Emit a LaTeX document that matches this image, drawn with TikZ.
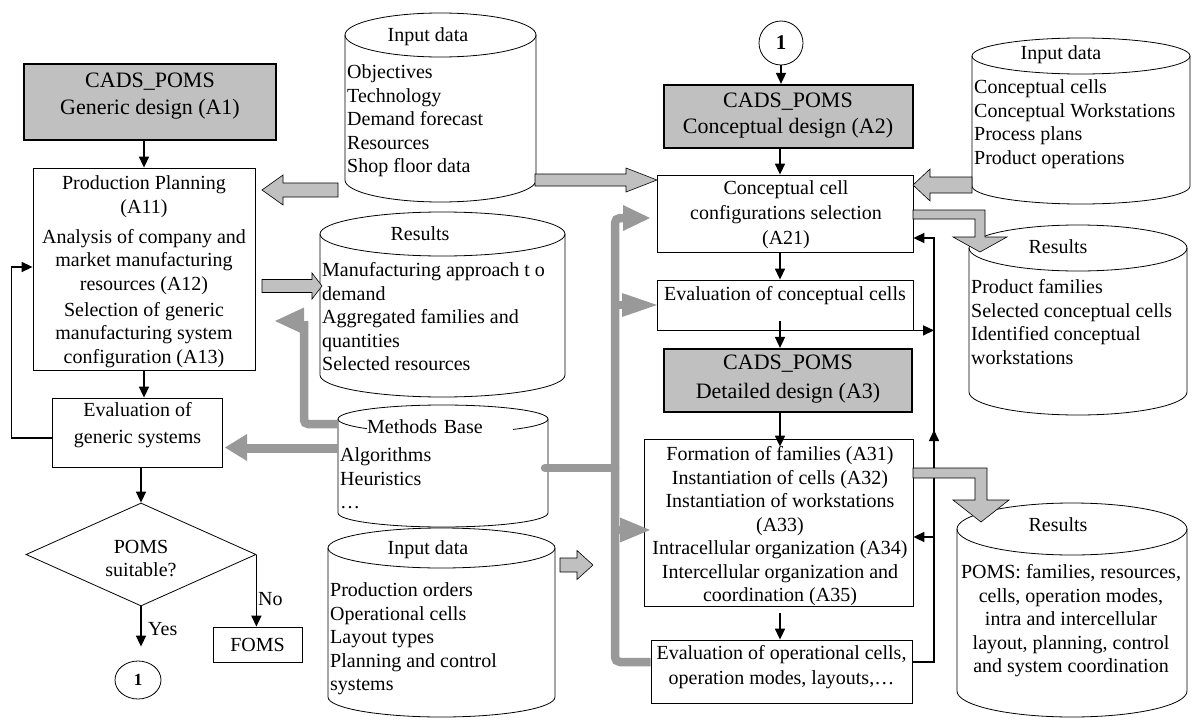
\documentclass[tikz,border=0pt]{standalone}
\usepackage{fontspec}
\setmainfont{Liberation Serif}
\usetikzlibrary{arrows.meta,shapes.geometric,calc}
\definecolor{boxgray}{RGB}{192,192,192}
\definecolor{linegray}{RGB}{153,153,153}
\newcommand{\bodyfont}{\fontsize{20}{23.5}\selectfont}
\newcommand{\headfont}{\fontsize{22}{26}\selectfont}
% cylinder: name, left, right, top, bottom, ry  (pixel values, y downwards)
\newcommand{\drawcyl}[6]{%
  \pgfmathsetmacro{\cylrx}{(#3-#2)/2}%
  \pgfmathsetmacro{\cylyt}{-(#4)-(#6)}%
  \pgfmathsetmacro{\cylyb}{-(#5)+(#6)}%
  \filldraw[cyl] (#2,\cylyt) -- (#2,\cylyb) arc[start angle=180,end angle=360,x radius=\cylrx,y radius=#6]
     -- (#3,\cylyt) arc[start angle=0,end angle=180,x radius=\cylrx,y radius=#6] -- cycle;
  \draw[cyl,fill=none] (#2,\cylyt) arc[start angle=180,end angle=360,x radius=\cylrx,y radius=#6];
  \coordinate (#1) at ({(#2+#3)/2},{-(#4+#5)/2});
}
% block arrow: tail x, head base x, tip x, centre y, shaft half, head half
\newcommand{\blockarrow}[6]{%
  \filldraw[barrow] (#1,{-(#4)+(#5)}) -- (#2,{-(#4)+(#5)}) -- (#2,{-(#4)+(#6)}) -- (#3,{-(#4)})
    -- (#2,{-(#4)-(#6)}) -- (#2,{-(#4)-(#5)}) -- (#1,{-(#4)-(#5)}) -- cycle;
}
% grey arrow head: base x, tip x, centre y, half width
\newcommand{\gheadtip}[4]{%
  \fill[linegray] (#1,{-(#3)+(#4)}) -- (#2,{-(#3)}) -- (#1,{-(#3)-(#4)}) -- cycle;
}
\begin{document}
\begin{tikzpicture}[x=1pt,y=1pt,
  box/.style={draw,line width=0.8pt,fill=white,inner sep=0pt},
  gbox/.style={draw,line width=2.2pt,fill=boxgray,inner sep=0pt},
  btxt/.style={font=\bodyfont,align=center,inner sep=0pt},
  htxt/.style={font=\headfont,align=center,inner sep=0pt},
  ltxt/.style={font=\bodyfont,align=left,inner sep=0pt,anchor=north west},
  arr/.style={-{Triangle[length=11pt,width=10pt]},line width=1.6pt},
  gline/.style={draw=linegray,line width=8.5pt,rounded corners=5pt},
  barrow/.style={fill=boxgray,draw=black,line width=0.6pt},
  cyl/.style={draw=black,fill=white,line width=0.8pt}
]
\useasboundingbox (0,0) rectangle (1192,-720);

% ---------- cylinders ----------
\drawcyl{in1}{345}{536}{13}{202}{22}
\drawcyl{res1}{320}{565}{212}{397}{22}
\drawcyl{mb}{338}{548}{405}{527}{14}
\drawcyl{in2}{328}{555}{528}{717}{20}
\drawcyl{inR}{972}{1190}{38}{204}{18}
\drawcyl{resR1}{969}{1187}{225}{415}{23}
\drawcyl{resR2}{957}{1187}{503}{717}{26}

\node[btxt] (in1-h) at (428,-37) {Input data};
\node[ltxt] (in1-l) at (347,-62) {\strut Objectives\\Technology\\Demand forecast\\Resources\\Shop floor data};
\node[btxt] (res1-h) at (420,-234) {Results};
\node[ltxt] (res1-l) at (322,-260) {\strut Manufacturing approach t o\\demand\\Aggregated families and\\quantities\\Selected resources};
\node[font=\bodyfont,fill=white,inner sep=0pt,text width=146pt,align=left,minimum height=18pt,anchor=west] (mb-h) at (367,-427) {Methods Base};
\node[ltxt] (mb-l) at (340,-445) {\strut Algorithms\\Heuristics\\…};
\node[btxt] (in2-h) at (428,-550) {Input data};
\node[ltxt] (in2-l) at (330,-580) {\strut Production orders\\Operational cells\\Layout types\\Planning and control\\systems};
\node[btxt] (inR-h) at (1061,-55) {Input data};
\node[ltxt] (inR-l) at (974,-77) {\strut Conceptual cells\\Conceptual Workstations\\Process plans\\Product operations};
\node[btxt] (resR1-h) at (1058,-247) {Results};
\node[ltxt] (resR1-l) at (971,-277) {\strut Product families\\Selected conceptual cells\\Identified conceptual\\workstations};
\node[btxt] (resR2-h) at (1058,-525) {Results};
\node[font=\bodyfont,align=center,inner sep=0pt,anchor=north] (resR2-l) at (1071,-562) {\strut POMS: families, resources,\\cells, operation modes,\\intra and intercellular\\layout, planning, control\\and system coordination};

% ---------- left column ----------
\node[gbox,minimum width=252pt,minimum height=76pt] (a1) at (150,-102) {};
\node[htxt] (a1-t) at (150,-96.5) {CADS\_POMS\\[1pt]Generic design (A1)};
\node[box,minimum width=222pt,minimum height=202pt] (a11) at (144,-269) {};
\node[btxt] (a11-t) at (144,-271.5) {Production Planning\\(A11)\\[6.5pt]Analysis of company and\\market manufacturing\\resources (A12)\\[2.5pt]Selection of generic\\manufacturing system\\configuration (A13)};
\node[box,minimum width=170pt,minimum height=69pt] (eg) at (137,-432.5) {};
\node[btxt] (eg-t) at (137.5,-425.5) {Evaluation of\\[3.5pt]generic systems};
\node[diamond,draw,line width=0.8pt,minimum width=230pt,minimum height=103pt,inner sep=0pt,aspect=2] (d) at (141,-554.5) {};
\node[btxt] (d-t) at (141,-558.5) {POMS\\suitable?};
\node[box,minimum width=89pt,minimum height=35pt,font=\bodyfont] (foms) at (257.5,-644.5) {FOMS};
\node[draw,ellipse,line width=0.8pt,minimum width=46pt,minimum height=38pt,inner sep=0pt,font=\fontsize{17}{20}\selectfont\bfseries] (c1) at (138,-680) {1};
\node[font=\bodyfont,anchor=west,inner sep=0pt] (yes) at (148,-629) {Yes};
\node[font=\bodyfont,anchor=west,inner sep=0pt] (no) at (258,-599) {No};

\draw[arr] (a11.north |- a1.south) -- (a11.north);
\draw[arr] (a11.south) -- (a11.south |- eg.north);
\draw[arr] (d.north |- eg.south) -- (d.north);
\draw[arr] (d.south) -- ($(d.south |- c1.north)+(0,14)$);
\draw[arr] (d.east) -- (d.east |- foms.north);
\draw[arr] ([yshift=-5.5pt]eg.west) -- ++(-40,0) |- ([yshift=2pt]a11.west);

% ---------- right column ----------
\coordinate (mx) at (780,0);
\coordinate (fbx) at (934,0);
\node[draw,circle,line width=0.8pt,minimum size=44pt,inner sep=0pt,font=\fontsize{21}{24}\selectfont\bfseries] (c2) at (781,-43) {1};
\node[gbox,minimum width=249pt,minimum height=63pt] (a2) at (788.5,-116.5) {};
\node[htxt] (a2-t) at (788,-116) {CADS\_POMS\\Conceptual design (A2)};
\node[box,minimum width=256pt,minimum height=77pt] (a21) at (785,-213.5) {};
\node[btxt] (a21-t) at (786,-215) {Conceptual cell\\[1.5pt]configurations selection\\[1.5pt](A21)};
\node[box,minimum width=256pt,minimum height=50pt] (ec) at (785,-305) {};
\node[btxt] (ec-t) at (785,-296) {Evaluation of conceptual cells};
\node[gbox,minimum width=248pt,minimum height=63pt] (a3) at (788,-380.5) {};
\node[htxt] (a3-t) at (788,-379.5) {CADS\_POMS\\[3pt]Detailed design (A3)};
\node[box,minimum width=269pt,minimum height=167pt] (a31) at (778.5,-522.5) {};
\node[btxt] (a31-t) at (780,-526.5) {Formation of families (A31)\\Instantiation of cells (A32)\\Instantiation of workstations\\(A33)\\Intracellular organization (A34)\\Intercellular organization and\\coordination (A35)};
\node[box,minimum width=261pt,minimum height=63pt] (eo) at (781.5,-671.5) {};
\node[btxt] (eo-t) at (781.5,-667.5) {Evaluation of operational cells,\\[1.5pt]operation modes, layouts,…};

\draw[arr] (c2.south) -- (c2.south |- a2.north);
\draw[arr] (a2.south -| mx) -- (a21.north -| mx);
\draw[arr] (a21.south -| mx) -- (ec.north -| mx);
\draw[arr] ($(ec.south -| mx)+(0,9)$) -- (a3.north -| mx);
\draw[arr] (a3.south -| mx) -- ($(a31.north -| mx)+(0,-8)$);
\draw[arr] ($(a31.south -| mx)+(0,-7)$) -- (eo.north -| mx);

% black feedback
\draw[arr] ([yshift=9.5pt]eo.east) -- ([yshift=9.5pt]eo.east -| fbx) -- ([yshift=-24.5pt]a21.east -| fbx) -- ([yshift=-24.5pt]a21.east);
\coordinate (up1) at (934,-448);
\coordinate (up2) at (934,-430);
\draw[arr] (up1) -- (up2);
\draw[arr] (ec.south east) -- (ec.south east -| fbx);
\draw[arr] ([yshift=-14.5pt]a31.east -| fbx) -- ([yshift=-14.5pt]a31.east);

% ---------- block arrows ----------
\blockarrow{338}{283}{262}{190}{7}{15}
\blockarrow{535}{626}{657}{180}{6}{12}
\blockarrow{262}{312}{322}{286}{6.5}{13}
\blockarrow{560}{577}{593}{565}{7}{14.5}
\blockarrow{972}{930}{913}{185}{8}{16}
\filldraw[barrow] (913,-210) -- (985,-210) -- (985,-237) -- (1007,-237) -- (980,-252) -- (953,-237) -- (975,-237) -- (975,-219) -- (913,-219) -- cycle;
\filldraw[barrow] (913,-468) -- (987,-468) -- (987,-500) -- (1009,-500) -- (981,-522) -- (953,-500) -- (975,-500) -- (975,-478) -- (913,-478) -- cycle;

% ---------- grey methods-base connectors ----------
\draw[gline,rounded corners=4pt] (338,-424) -- (304,-424) -- (304,-321);
\gheadtip{304}{275}{321}{13.5}
\draw[gline,line width=9pt] (338,-448) -- (247,-448);
\gheadtip{247}{225}{447.5}{13.5}
\draw[gline,line cap=round] (545,-468) -- (615,-468);
\draw[gline] (624,-218) -- (615,-218) -- (615,-662) -- ([yshift=9.5pt]eo.west);
\gheadtip{623}{650}{218}{13}
\draw[gline] (615,-305) -- (623,-305);
\gheadtip{622}{657}{305}{12}
\draw[gline] (615,-530) -- (621,-530);
\gheadtip{620}{650}{530}{12.5}
\end{tikzpicture}
\end{document}
